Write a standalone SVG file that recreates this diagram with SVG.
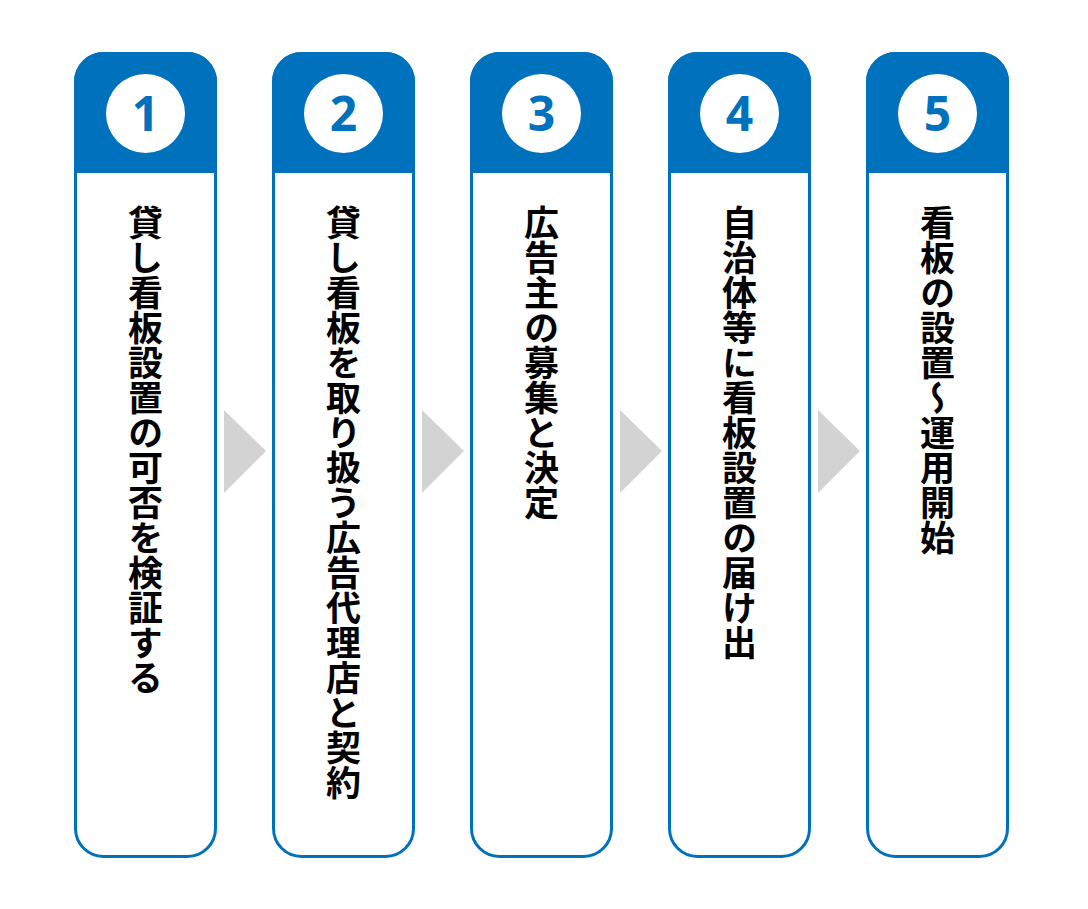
<svg xmlns="http://www.w3.org/2000/svg" width="1088" height="909" viewBox="0 0 1088 909">
<defs>
<style>
.card{fill:#fff;stroke:#0071bc;stroke-width:3}
.head{fill:#0071bc}
.circ{fill:#fff}
.num{font-family:"Open Sans","Noto Sans",sans-serif;font-weight:700;font-size:48px;fill:#0071bc;text-anchor:middle}
.lbl{font-family:"Noto Sans CJK JP",sans-serif;font-weight:700;font-size:35px;fill:#000;writing-mode:vertical-rl;text-anchor:start}
.arr{fill:#d3d3d3}
</style>
<g id="card-shape">
<rect class="card" x="1.5" y="1.5" width="140" height="803" rx="28"/>
<path class="head" d="M0,30 A30,30 0 0 1 30,0 L113,0 A30,30 0 0 1 143,30 L143,121 L0,121 Z"/>
<circle class="circ" cx="71.5" cy="61.5" r="39.5"/>
</g>
</defs>
<g id="connectors">
<polygon class="arr" points="224,410 266,451 224,493"/>
<polygon class="arr" points="422,410 464,451 422,493"/>
<polygon class="arr" points="620,410 662,451 620,493"/>
<polygon class="arr" points="818,410 860,451 818,493"/>
</g>
<g id="step1">
<use href="#card-shape" x="74" y="52"/>
<text class="num" x="145.5" y="131">1</text>
<text class="lbl" x="145.5" y="205">貸し看板設置の可否を検証する</text>
</g>
<g id="step2">
<use href="#card-shape" x="272" y="52"/>
<text class="num" x="343.5" y="131">2</text>
<text class="lbl" x="343.5" y="205">貸し看板を取り扱う広告代理店と契約</text>
</g>
<g id="step3">
<use href="#card-shape" x="470" y="52"/>
<text class="num" x="541.5" y="131">3</text>
<text class="lbl" x="541.5" y="205">広告主の募集と決定</text>
</g>
<g id="step4">
<use href="#card-shape" x="668" y="52"/>
<text class="num" x="739.5" y="131">4</text>
<text class="lbl" x="739.5" y="205">自治体等に看板設置の届け出</text>
</g>
<g id="step5">
<use href="#card-shape" x="866" y="52"/>
<text class="num" x="937.5" y="131">5</text>
<text class="lbl" x="937.5" y="205">看板の設置〜運用開始</text>
</g>
</svg>
